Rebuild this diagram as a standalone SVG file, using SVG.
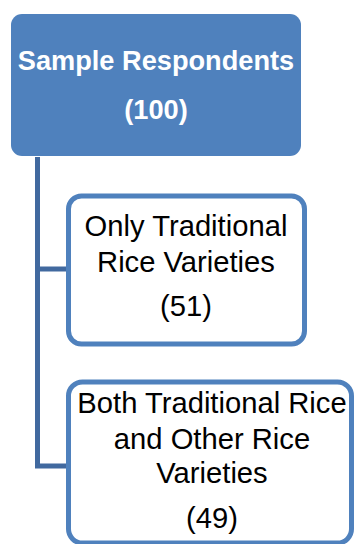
<svg xmlns="http://www.w3.org/2000/svg" width="354" height="544" viewBox="0 0 354 544">
<style>
.t{font-family:"Liberation Sans",Arial,sans-serif;font-size:29.2px;text-anchor:middle;fill:#000}
.w{fill:#fff;font-weight:bold;font-size:27.2px}
.box{fill:#fff;stroke:#4F81BD;stroke-width:5}
.conn{fill:none;stroke:#41699F;stroke-width:5;stroke-linejoin:miter}
</style>
<rect width="354" height="544" fill="#fff"/>
<g id="connectors">
<path class="conn" d="M37.5,157 V466 H68"/>
<path class="conn" d="M37.5,269 H68"/>
</g>
<g id="root">
<rect x="11" y="14" width="290" height="142" rx="11" fill="#4F81BD"/>
<text class="t w" x="156" y="70">Sample Respondents</text>
<text class="t w" x="156" y="119">(100)</text>
</g>
<g id="only-traditional">
<rect class="box" x="68.5" y="196" width="236" height="148" rx="13"/>
<text class="t" x="186" y="236">Only Traditional</text>
<text class="t" x="186" y="271.5">Rice Varieties</text>
<text class="t" x="186" y="316">(51)</text>
</g>
<g id="both">
<rect class="box" x="68.5" y="382" width="283" height="161" rx="14"/>
<text class="t" x="212" y="413">Both Traditional Rice</text>
<text class="t" x="212" y="449">and Other Rice</text>
<text class="t" x="212" y="483">Varieties</text>
<text class="t" x="212" y="528">(49)</text>
</g>
</svg>
